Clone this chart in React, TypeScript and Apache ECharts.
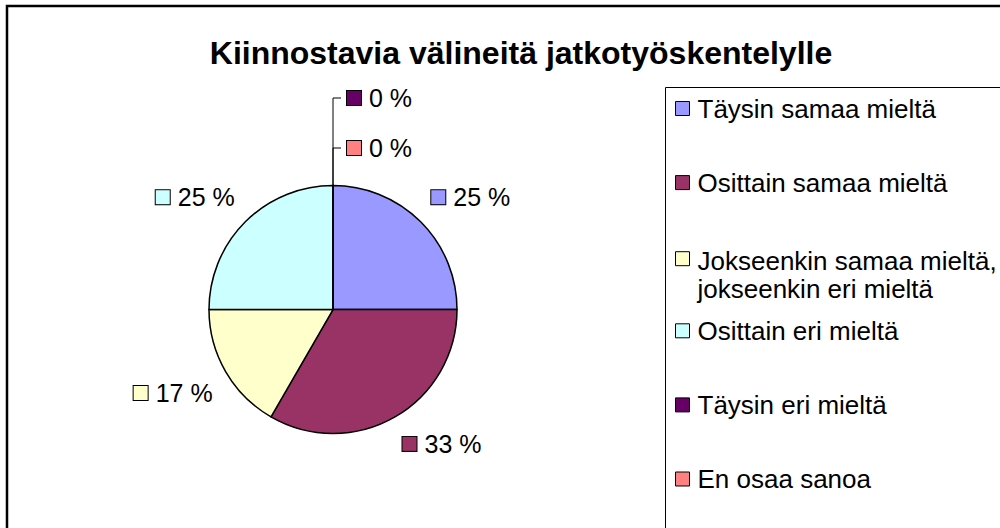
import React, { useEffect, useRef } from "react";
import * as echarts from "echarts";

const chartTitle = "Kiinnostavia välineitä jatkotyöskentelylle";
const categories = [
  "Täysin samaa mieltä",
  "Osittain samaa mieltä",
  "Jokseenkin samaa mieltä, jokseenkin eri mieltä",
  "Osittain eri mieltä",
  "Täysin eri mieltä",
  "En osaa sanoa",
];
const values = [3, 4, 2, 3, 0, 0];
const colors = ["#9999FF", "#993366", "#FFFFCC", "#CCFFFF", "#660066", "#FF8080"];

const FONT = "'Liberation Sans', Arial, sans-serif";

export default function App() {
  const ref = useRef<HTMLDivElement>(null);

  useEffect(() => {
    if (!ref.current) return;
    const chart = echarts.init(ref.current, undefined, { renderer: "svg" });

    const cx = 333;
    const cy = 309.5;
    const R = 124;
    const labelR = R + 15;
    const total = values.reduce((a, b) => a + b, 0);
    const zeroIdx = values.map((v, i) => (v === 0 ? i : -1)).filter((i) => i >= 0);

    const rich: Record<string, any> = {
      s: { width: 8 },
      t: { fontSize: 25, color: "#000", fontFamily: FONT, lineHeight: 28 },
    };
    colors.forEach((c, i) => {
      rich["m" + i] = {
        width: 14,
        height: 14,
        backgroundColor: c,
        borderColor: "#000",
        borderWidth: 1,
      };
    });

    const legendRich = {
      g: { width: 3, lineHeight: 30 },
      sp: { width: 0, height: 60, lineHeight: 60 },
      a: { fontSize: 26, color: "#000", fontFamily: FONT, lineHeight: 30, verticalAlign: "bottom" },
      b: { fontSize: 26, color: "#000", fontFamily: FONT, lineHeight: 30 },
    };

    const legendPitch = 74.1;
    const legendFirst = 110.5;
    const legends = categories.map((name, i) => {
      const twoLine = name.includes(", ");
      const c = legendFirst + i * legendPitch;
      return {
        data: [name],
        orient: "vertical",
        left: 675,
        top: twoLine ? c - 45 : c - 15,
        padding: 0,
        icon: "rect",
        itemWidth: 14,
        itemHeight: 14,
        selectedMode: false,
        itemStyle: { borderColor: "#000", borderWidth: 1 },
        formatter: (n: string) => {
          if (twoLine) {
            const k = n.indexOf(", ");
            return `{g|}{sp|}{a|${n.slice(0, k + 1)}}\n{g|}{b|${n.slice(k + 2)}}`;
          }
          return `{g|}{b|${n}}`;
        },
        textStyle: {
          fontSize: 26,
          color: "#000",
          fontFamily: FONT,
          rich: legendRich,
        },
      };
    });

    chart.setOption({
      animation: false,
      backgroundColor: "#fff",
      title: {
        text: chartTitle,
        left: 516,
        top: 32,
        textAlign: "center",
        textStyle: { fontSize: 32, fontWeight: "bold", color: "#000", fontFamily: FONT },
      },
      legend: legends,
      graphic: [
        {
          type: "rect",
          shape: { x: 7, y: 6, width: 1200, height: 800 },
          style: { fill: "none", stroke: "#000", lineWidth: 2.5 },
          silent: true,
        },
        {
          type: "rect",
          shape: { x: 665.5, y: 87.5, width: 600, height: 600 },
          style: { fill: "none", stroke: "#000", lineWidth: 1 },
          silent: true,
        },
      ],
      series: [
        {
          type: "pie",
          center: [cx, cy],
          radius: R,
          startAngle: 90,
          clockwise: true,
          avoidLabelOverlap: false,
          itemStyle: { borderColor: "#000", borderWidth: 1.5 },
          emphasis: { disabled: true },
          label: {
            show: true,
            position: "outside",
            fontFamily: FONT,
            fontSize: 25,
            color: "#000",
            formatter: (p: any) => `{m${p.dataIndex}|}{s|}{t|${Math.round(p.percent)} %}`,
            rich,
          },
          labelLine: { show: false, lineStyle: { color: "#000", width: 1 } },
          labelLayout: (params: any) => {
            const idx = params.dataIndex;
            if (values[idx] === 0) {
              const rank = zeroIdx.length - 1 - zeroIdx.indexOf(idx);
              const top = cy - R;
              const y = top - 37.5 - rank * 50;
              return {
                x: cx + 14,
                y,
                align: "left",
                verticalAlign: "middle",
                labelLinePoints: [
                  [cx, top],
                  [cx, y],
                  [cx + 8, y],
                ],
              };
            }
            let start = 90;
            for (let i = 0; i < idx; i++) start -= (values[i] / total) * 360;
            const mid = start - ((values[idx] / total) * 360) / 2;
            const rad = (mid * Math.PI) / 180;
            const cos = Math.cos(rad);
            const sin = Math.sin(rad);
            return {
              x: cx + labelR * cos,
              y: cy - labelR * sin,
              align: cos >= 0 ? "left" : "right",
              verticalAlign: sin >= 0 ? "bottom" : "top",
            };
          },
          data: categories.map((name, i) => ({
            name,
            value: values[i],
            itemStyle: { color: colors[i] },
            labelLine: { show: values[i] === 0 },
          })),
        },
      ],
    });

    return () => chart.dispose();
  }, []);

  return (
    <div
      ref={ref}
      style={{ position: "fixed", left: 0, top: 0, width: 1000, height: 528, background: "#fff" }}
    />
  );
}
